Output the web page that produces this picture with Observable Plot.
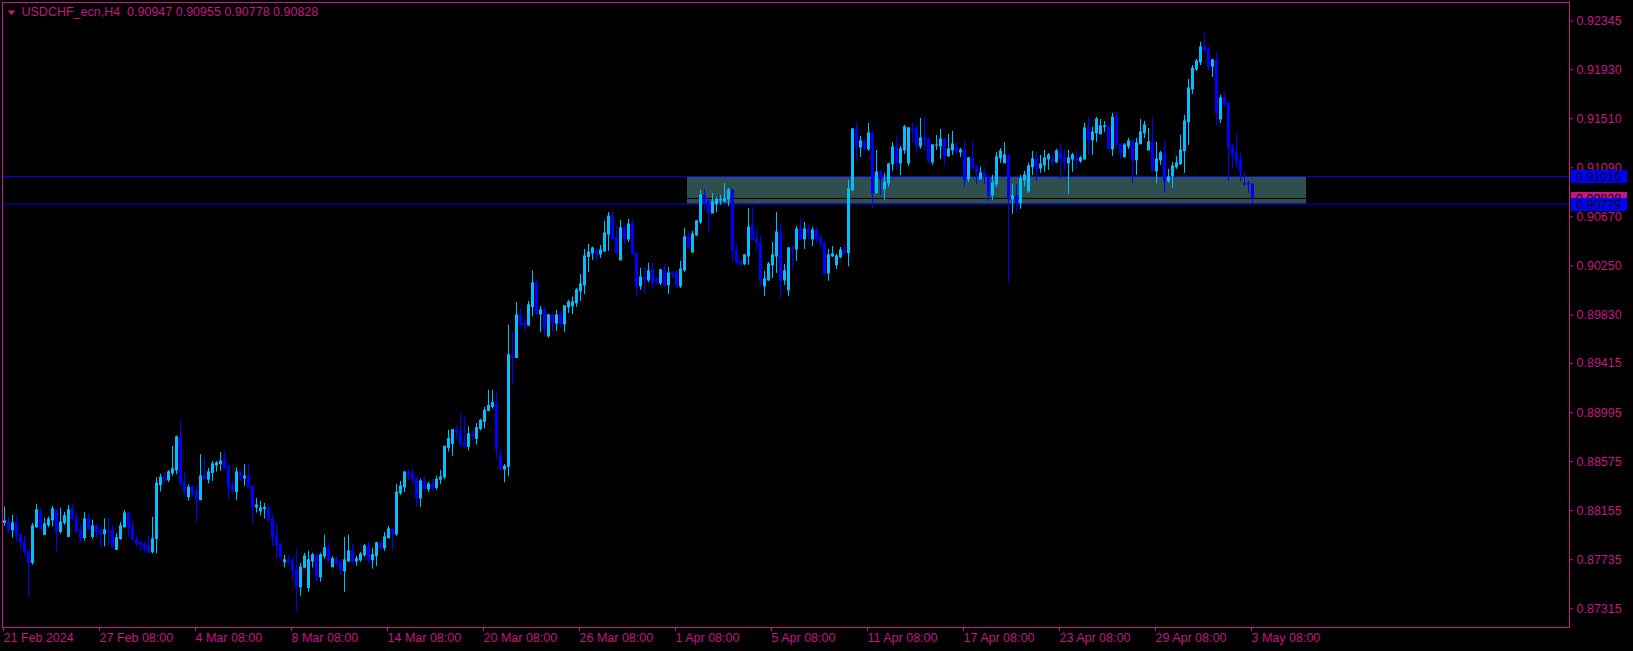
<!DOCTYPE html>
<html><head><meta charset="utf-8">
<script src="https://cdn.jsdelivr.net/npm/d3@7"></script>
<script src="https://cdn.jsdelivr.net/npm/@observablehq/plot@0.6"></script>
<style>html,body{margin:0;padding:0;background:#000;overflow:hidden}svg{display:block}</style>
</head><body><div id="chart"></div>
<script>
const opens = [
.88050,.88055,.87987,.88047,.87944,.87884,.87805,.87708,.88013,.88149,
.87947,.88030,.88073,.88158,.87973,.88050,.87930,.88158,.88090,.87976,
.87921,.88081,.87930,.88021,.87978,.87953,.87978,.87976,.87819,.87913,
.88013,.88132,.88013,.87907,.87879,.87867,.87833,.87799,.87913,.88375,
.88437,.88415,.88474,.88500,.88779,.88395,.88272,.88352,.88315,.88244,
.88449,.88420,.88477,.88542,.88554,.88585,.88534,.88363,.88314,.88482,
.88431,.88448,.88363,.88183,.88149,.88169,.88175,.88081,.87935,.87867,
.87713,.87730,.87730,.87645,.87499,.87667,.87493,.87721,.87773,.87585,
.87764,.87833,.87670,.87739,.87704,.87636,.87721,.87807,.87721,.87730,
.87773,.87850,.87730,.87764,.87875,.87833,.87918,.87995,.87952,.88303,
.88354,.88482,.88474,.88423,.88260,.88405,.88337,.88380,.88350,.88420,
.88440,.88692,.88727,.88844,.88835,.88732,.88701,.88804,.88769,.88855,
.88915,.89009,.89043,.89077,.88616,.88507,.88530,.89479,.89462,.89818,
.89758,.89741,.89898,.90100,.89835,.89870,.89647,.89827,.89756,.89827,
.89750,.89895,.89904,.89929,.90032,.90083,.90326,.90357,.90374,.90348,
.90374,.90519,.90673,.90485,.90297,.90571,.90477,.90605,.90357,.90075,
.90143,.90126,.90212,.90135,.90101,.90212,.90084,.90186,.90186,.90075,
.90212,.90494,.90366,.90511,.90622,.90853,.90802,.90699,.90776,.90810,
.90802,.90819,.90896,.90383,.90280,.90263,.90331,.90588,.90485,.90443,
.90075,.90126,.90255,.90331,.90537,.90126,.90041,.90400,.90391,.90562,
.90477,.90562,.90477,.90554,.90485,.90451,.90186,.90331,.90255,.90323,
.90383,.90361,.90897,.91419,.91265,.91316,.91248,.91384,.90871,.91051,
.90906,.90957,.91119,.91265,.91128,.91239,.91128,.91427,.91419,.91273,
.91342,.91333,.91136,.91280,.91273,.91333,.91188,.91239,.91265,.91222,
.91239,.90991,.91171,.91094,.90991,.91042,.91017,.90854,.90948,.91171,
.91128,.91196,.90820,.90846,.90786,.90983,.90888,.91094,.91162,.91085,
.91111,.91162,.91154,.91137,.91231,.91179,.91128,.91162,.91171,.91145,
.91162,.91427,.91325,.91385,.91376,.91441,.91444,.91248,.91521,.91291,
.91179,.91273,.91316,.91154,.91291,.91385,.91239,.91308,.91060,.91154,
.91214,.90974,.91017,.91094,.91120,.91231,.91479,.91761,.91932,.91992,
.92120,.92103,.91957,.92009,.91504,.91684,.91641,.91265,.91214,.91154,
.90951,.90957,.90947];
const highs = [
.88187,.88093,.88115,.88115,.87959,.87939,.87805,.88044,.88209,.88175,
.88090,.88101,.88192,.88164,.88175,.88141,.88201,.88215,.88132,.88033,
.88141,.88124,.88073,.88038,.88016,.88084,.88098,.88024,.87959,.88053,
.88158,.88141,.88064,.87939,.87896,.87887,.87939,.88098,.88437,.88466,
.88480,.88500,.88705,.88794,.88927,.88483,.88377,.88372,.88358,.88634,
.88605,.88517,.88577,.88576,.88653,.88665,.88539,.88397,.88522,.88491,
.88551,.88551,.88368,.88260,.88234,.88217,.88200,.88129,.88038,.87867,
.87773,.87770,.87750,.87824,.87704,.87790,.87807,.87790,.87787,.87790,
.87944,.87875,.87764,.87756,.87730,.87927,.87944,.87867,.87764,.87798,
.87867,.87884,.87833,.87884,.87884,.87969,.88021,.87995,.88380,.88405,
.88491,.88500,.88522,.88440,.88423,.88448,.88400,.88420,.88450,.88500,
.88707,.88844,.88844,.88881,.88986,.88952,.88872,.88835,.88901,.88938,
.89040,.89186,.89186,.89171,.88673,.88550,.89741,.89681,.89938,.89878,
.89801,.89946,.90206,.90126,.89904,.89892,.89835,.89841,.89870,.89852,
.89904,.89955,.89986,.90058,.90177,.90391,.90434,.90411,.90400,.90425,
.90630,.90707,.90716,.90596,.90639,.90596,.90648,.90639,.90357,.90229,
.90229,.90272,.90272,.90152,.90220,.90263,.90237,.90203,.90203,.90289,
.90571,.90537,.90545,.90639,.90896,.90904,.90819,.90870,.90836,.90853,
.90956,.90913,.90904,.90434,.90297,.90349,.90742,.90750,.90571,.90502,
.90203,.90280,.90451,.90708,.90614,.90263,.90408,.90417,.90588,.90656,
.90622,.90597,.90579,.90579,.90511,.90451,.90391,.90417,.90349,.90408,
.90426,.90983,.91427,.91478,.91359,.91333,.91470,.91410,.91239,.91068,
.91042,.91128,.91307,.91367,.91273,.91453,.91436,.91478,.91453,.91513,
.91521,.91350,.91290,.91367,.91419,.91350,.91376,.91401,.91307,.91256,
.91325,.91179,.91316,.91111,.91094,.91094,.91025,.91025,.91222,.91256,
.91307,.91196,.90948,.90948,.91025,.91059,.91128,.91230,.91222,.91196,
.91239,.91213,.91205,.91248,.91299,.91248,.91239,.91214,.91239,.91188,
.91470,.91530,.91436,.91521,.91504,.91487,.91444,.91556,.91564,.91291,
.91299,.91342,.91316,.91342,.91504,.91487,.91427,.91521,.91308,.91231,
.91325,.91077,.91137,.91188,.91368,.91539,.91846,.91966,.92017,.92163,
.92240,.92120,.92017,.92077,.91710,.91735,.91641,.91291,.91385,.91214,
.91051,.90974,.90955];
const lows = [
.88021,.87959,.87921,.87879,.87822,.87753,.87417,.87688,.88004,.87993,
.87947,.88010,.88016,.87802,.87953,.88030,.87930,.88073,.87973,.87873,
.87893,.87987,.87910,.87910,.87836,.87845,.87859,.87845,.87819,.87901,
.88007,.87924,.87904,.87845,.87810,.87802,.87793,.87785,.87785,.88315,
.88400,.88395,.88452,.88463,.88366,.88281,.88238,.88278,.88050,.88244,
.88423,.88383,.88406,.88485,.88491,.88500,.88243,.88294,.88243,.88400,
.88363,.88348,.88029,.88135,.88109,.88083,.88058,.87844,.87741,.87727,
.87664,.87696,.87570,.87288,.87422,.87659,.87459,.87664,.87542,.87542,
.87739,.87721,.87670,.87684,.87602,.87456,.87713,.87696,.87679,.87713,
.87756,.87696,.87653,.87679,.87824,.87807,.87918,.87807,.87935,.88286,
.88311,.88414,.88380,.88183,.88183,.88329,.88310,.88320,.88330,.88380,
.88420,.88658,.88616,.88766,.88701,.88698,.88667,.88758,.88718,.88838,
.88855,.89000,.89026,.88593,.88502,.88393,.88445,.89228,.89462,.89733,
.89690,.89733,.89813,.89827,.89681,.89647,.89630,.89684,.89690,.89716,
.89681,.89844,.89835,.89895,.89946,.90006,.90194,.90297,.90288,.90314,
.90365,.90374,.90468,.90348,.90297,.90425,.90451,.90340,.89989,.90041,
.90007,.90109,.90049,.90084,.90084,.90066,.90007,.90143,.90066,.90058,
.90195,.90408,.90357,.90502,.90605,.90725,.90528,.90699,.90708,.90768,
.90793,.90759,.90289,.90263,.90255,.90255,.90255,.90468,.90374,.90075,
.89989,.90118,.90143,.90186,.89972,.90084,.89989,.90229,.90289,.90468,
.90391,.90477,.90417,.90443,.90400,.90160,.90118,.90323,.90220,.90314,
.90349,.90242,.90888,.91139,.91179,.91239,.91230,.90735,.90871,.90854,
.90812,.90923,.91059,.91068,.91025,.91205,.91102,.91307,.91213,.91248,
.91239,.91128,.91111,.91239,.91162,.91102,.91179,.91196,.91213,.91179,
.90923,.90965,.91077,.90948,.90991,.90948,.90803,.90812,.90923,.91128,
.91128,.90102,.90692,.90709,.90735,.90923,.90871,.91025,.90974,.91042,
.91051,.91068,.91102,.91128,.90991,.91060,.90863,.91051,.91077,.91128,
.91154,.91197,.91197,.91308,.91376,.91393,.91248,.91188,.91282,.91162,
.91179,.91248,.90949,.91026,.91291,.91342,.91239,.91060,.90957,.91111,
.90872,.90957,.90914,.91077,.91111,.91043,.91282,.91718,.91915,.91966,
.92077,.91915,.91863,.91444,.91470,.91607,.90974,.91085,.91077,.90966,
.90931,.90872,.90778];
const closes = [
.88064,.87987,.88047,.87944,.87879,.87802,.87708,.88021,.88158,.87998,
.88038,.88078,.88166,.87973,.88053,.88107,.88158,.88084,.87973,.87921,
.88081,.87993,.88021,.87973,.87956,.87987,.87970,.87845,.87919,.88021,
.88132,.88010,.87907,.87867,.87859,.87825,.87793,.87910,.88386,.88437,
.88415,.88483,.88509,.88782,.88392,.88315,.88352,.88306,.88244,.88449,
.88423,.88483,.88551,.88559,.88576,.88522,.88354,.88329,.88482,.88434,
.88448,.88354,.88183,.88200,.88175,.88177,.88072,.87927,.87858,.87756,
.87730,.87721,.87636,.87499,.87670,.87764,.87730,.87773,.87585,.87773,
.87833,.87721,.87739,.87702,.87645,.87730,.87807,.87713,.87739,.87781,
.87850,.87730,.87773,.87875,.87833,.87927,.87995,.87952,.88311,.88363,
.88482,.88465,.88414,.88260,.88405,.88337,.88380,.88350,.88420,.88440,
.88701,.88769,.88844,.88829,.88727,.88701,.88809,.88795,.88861,.88923,
.89009,.89052,.89077,.88678,.88507,.88530,.89485,.89465,.89827,.89741,
.89741,.89912,.90100,.89835,.89870,.89716,.89827,.89756,.89827,.89750,
.89904,.89938,.89938,.90041,.90092,.90331,.90365,.90400,.90348,.90383,
.90528,.90673,.90477,.90357,.90571,.90477,.90605,.90348,.90075,.90152,
.90126,.90203,.90109,.90101,.90212,.90075,.90186,.90178,.90075,.90220,
.90494,.90408,.90520,.90631,.90853,.90793,.90699,.90793,.90819,.90819,
.90827,.90896,.90374,.90280,.90263,.90340,.90579,.90477,.90443,.90126,
.90135,.90263,.90340,.90537,.90126,.90203,.90400,.90391,.90562,.90477,
.90562,.90528,.90554,.90477,.90443,.90186,.90340,.90349,.90331,.90383,
.90357,.90906,.91419,.91273,.91316,.91248,.91384,.90871,.91051,.90991,
.90965,.91119,.91265,.91128,.91248,.91436,.91427,.91410,.91282,.91342,
.91325,.91145,.91282,.91282,.91333,.91188,.91248,.91290,.91222,.91239,
.90983,.91171,.91085,.91051,.91042,.91017,.90854,.90957,.91179,.91230,
.91196,.90820,.90846,.90786,.90991,.91025,.91102,.91162,.91077,.91119,
.91171,.91196,.91136,.91231,.91171,.91137,.91171,.91197,.91148,.91171,
.91427,.91325,.91393,.91504,.91444,.91446,.91248,.91521,.91282,.91214,
.91282,.91316,.91154,.91299,.91393,.91453,.91308,.91060,.91162,.91214,
.90974,.91008,.91102,.91128,.91239,.91487,.91769,.91940,.92000,.92120,
.92094,.91957,.92009,.91556,.91684,.91633,.91256,.91205,.91145,.91051,
.90946,.90946,.90828];

const xTickBars = [0,24,48,72,96,120,144,168,192,216,240,264,288,312];
const xTickLabels = ["21 Feb 2024","27 Feb 08:00","4 Mar 08:00","8 Mar 08:00","14 Mar 08:00","20 Mar 08:00","26 Mar 08:00","1 Apr 08:00","5 Apr 08:00","11 Apr 08:00","17 Apr 08:00","23 Apr 08:00","29 Apr 08:00","3 May 08:00"];
const yTicks = [0.92345,0.91930,0.91510,0.91090,0.90670,0.90250,0.89830,0.89415,0.88995,0.88575,0.88155,0.87735,0.87315];
const levelLines = [0.91016, 0.90779];
const bidPrice = 0.90828;
const zoneBars = [170.75, 325.5];
const zonePrices = [0.90779, 0.91016];
const tagPrices = [0.90828, 0.91016, 0.90779];
const tagColors = ["#C71585", "#0000FF", "#0000FF"];
const symbolName = "USDCHF_ecn,H4";
const titleValues = [0.90947, 0.90955, 0.90778, 0.90828];

const FG = "#C71585", BULL = "#00BFFF", BEAR = "#0000FF";
const FONT = "'Liberation Sans', Arial, sans-serif";
const bars = opens.map((o, i) => ({i, open: o, high: highs[i], low: lows[i], close: closes[i], up: closes[i] >= o}));
const labelMap = new Map(xTickBars.map((b, k) => [b, xTickLabels[k]]));
const zone = [{x1: zoneBars[0], x2: zoneBars[1], y1: zonePrices[0], y2: zonePrices[1]}];
const titleText = symbolName + "  " + titleValues.map(v => v.toFixed(5)).join(" ");
const flatTriangle = {draw(ctx) { ctx.moveTo(-4, -2); ctx.lineTo(4, -2); ctx.lineTo(0, 2.5); ctx.closePath(); }};

const candleMarks = (up, color) => [
  Plot.ruleX(bars, {filter: d => d.up === up, x: "i", y1: "high", y2: "low", stroke: color, strokeWidth: 1}),
  Plot.ruleX(bars, {filter: d => d.up === up, x: "i", y1: d => Math.max(d.open, d.close), y2: d => Math.min(d.open, d.close), stroke: color, strokeWidth: 3, insetTop: -0.5, insetBottom: -0.5})
];

const chart = Plot.plot({
  width: 1633, height: 651,
  marginLeft: 2, marginRight: 64, marginTop: 2, marginBottom: 24,
  x: {type: "linear", domain: [-0.5, 391.25]},
  y: {type: "linear", domain: [0.871549, 0.925051]},
  style: {background: "#000", color: FG, fontFamily: FONT, fontSize: "12.5px"},
  marks: [
    Plot.rect(zone, {x1: "x1", x2: "x2", y1: "y1", y2: "y2", fill: "#2F4F4F"}),
    Plot.ruleY([bidPrice], {stroke: "#000"}),
    Plot.ruleY(levelLines, {stroke: "#0000FF"}),
    ...candleMarks(true, BULL),
    ...candleMarks(false, BEAR),
    Plot.frame({stroke: FG, shapeRendering: "crispEdges"}),
    Plot.axisX({anchor: "bottom", ticks: xTickBars, tickFormat: d => labelMap.get(d), tickSize: 4, tickPadding: 2, textAnchor: "start", dx: -1, fontSize: 12.5, stroke: FG, fill: FG}),
    Plot.axisY({anchor: "right", ticks: yTicks, tickFormat: d => d.toFixed(5), tickSize: 3, tickPadding: 4, fontSize: 12.5, stroke: FG, fill: FG}),
    Plot.text([titleText], {frameAnchor: "top-left", text: d => d, dx: 19, dy: 5, fill: FG, fontSize: 12.5, textAnchor: "start"}),
    Plot.dot([symbolName], {frameAnchor: "top-left", dx: 9, dy: 10, symbol: flatTriangle, fill: FG, stroke: null})
  ]
});

// price tags on the right scale, positioned by Plot's own y scale
const yScale = chart.scale("y");
const svg = d3.select(chart);
const tags = svg.append("g").attr("font-family", FONT).attr("font-size", "12.5px").attr("text-anchor", "start");
tagPrices.forEach((v, k) => {
  const y = Math.round(yScale.apply(v));
  tags.append("rect").attr("x", 1571).attr("y", y - 6).attr("width", 56).attr("height", 13).attr("fill", tagColors[k]);
  tags.append("text").attr("x", 1576).attr("y", y + 5).attr("fill", "#000").attr("text-anchor", "start").text(v.toFixed(5));
});

document.getElementById("chart").append(chart);
</script>
</body></html>
